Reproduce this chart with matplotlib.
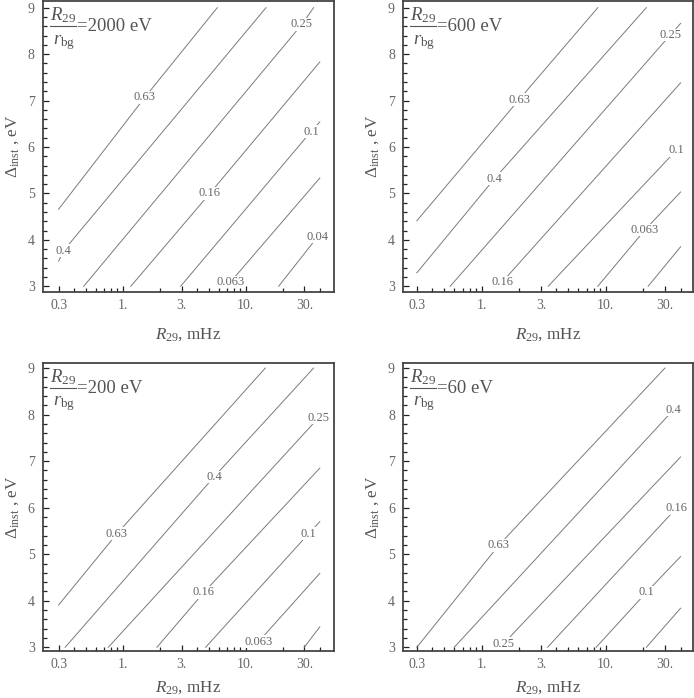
import matplotlib
matplotlib.use("Agg")
import matplotlib.pyplot as plt
import numpy as np
from matplotlib.ticker import FixedLocator, FixedFormatter, NullFormatter

plt.rcParams['font.family'] = 'Liberation Serif'
plt.rcParams['mathtext.fontset'] = 'custom'
plt.rcParams['mathtext.rm'] = 'Liberation Serif'
plt.rcParams['mathtext.it'] = 'Liberation Serif:italic'

# contour levels (labels) and line end points
# each line: start (r0, d0) -> end (r1, d1), label anchor (rl, dl)
p1_levels = ['0.63', '0.4', '0.25', '0.16', '0.1', '0.063', '0.04']
p1_r0 = [0.3, 0.3, 0.48, 1.16, 2.95, 7.15, 18.5]
p1_d0 = [4.66, 3.54, 3.0, 3.0, 3.0, 3.0, 3.0]
p1_r1 = [5.86, 14.6, 35.6, 40, 40, 40, 40]
p1_d1 = [9.0, 9.0, 9.0, 7.83, 6.54, 5.33, 4.12]
p1_rl = [1.51, 0.33, 28.6, 5.1, 33.9, 7.5, 38.5]
p1_dl = [7.07, 3.77, 8.64, 5.0, 6.33, 3.09, 4.07]

p2_levels = ['0.63', '0.4', '0.25', '0.16', '0.1', '0.063', '']
p2_r0 = [0.3, 0.3, 0.557, 1.29, 3.43, 8.61, 21.9]
p2_d0 = [4.41, 3.29, 3.0, 3.0, 3.0, 3.0, 3.0]
p2_r1 = [8.61, 21.2, 40, 40, 40, 40, 40]
p2_d1 = [9.0, 9.0, 8.66, 7.38, 6.04, 5.03, 3.85]
p2_rl = [2.0, 1.27, 33, 1.46, 37, 20.6, None]
p2_dl = [7.02, 5.32, 8.41, 3.09, 5.93, 4.21, None]

p3_levels = ['0.63', '0.4', '0.25', '0.16', '0.1', '0.063', '']
p3_r0 = [0.3, 0.339, 0.76, 1.89, 4.71, 11.6, 29.9]
p3_d0 = [3.91, 3.0, 3.0, 3.0, 3.0, 3.0, 3.0]
p3_r1 = [14.4, 35.6, 40, 40, 40, 40, 40]
p3_d1 = [9.0, 9.0, 7.95, 6.85, 5.70, 4.59, 3.44]
p3_rl = [0.894, 5.5, 39, 4.56, 32.4, 12.7, None]
p3_dl = [5.44, 6.66, 7.93, 4.18, 5.44, 3.12, None]

p4_levels = ['0.63', '0.4', '0.25', '0.16', '0.1', '']
p4_r0 = [0.3, 0.6, 1.42, 3.39, 8.35, 21.2]
p4_d0 = [3.0, 3.0, 3.0, 3.0, 3.0, 3.0]
p4_r1 = [29.9, 40, 40, 40, 40, 40]
p4_d1 = [9.0, 8.2, 7.09, 6.05, 4.95, 3.84]
p4_rl = [1.37, 35, 1.5, 37, 21.2, None]
p4_dl = [5.19, 8.1, 3.08, 5.99, 4.18, None]

ratios = ['2000', '600', '200', '60']

xticks = [0.3, 1, 3, 10, 30]
xticklabels = ['0.3', '1.', '3.', '10.', '30.']

fig = plt.figure(figsize=(6.94, 6.98), dpi=100)
boxes = [[0.062, 0.5817, 0.419, 0.4173],
         [0.581, 0.5817, 0.417, 0.4173],
         [0.062, 0.0669, 0.419, 0.4131],
         [0.581, 0.0669, 0.417, 0.4131]]
xlims = [(0.224, 52), (0.233, 50), (0.224, 52), (0.233, 50)]
ylims = [(2.877, 9.15), (2.877, 9.15), (2.914, 9.11), (2.914, 9.11)]
xlabelpads = [10, 10, 6, 6]

panels = [
    (p1_levels, p1_r0, p1_d0, p1_r1, p1_d1, p1_rl, p1_dl),
    (p2_levels, p2_r0, p2_d0, p2_r1, p2_d1, p2_rl, p2_dl),
    (p3_levels, p3_r0, p3_d0, p3_r1, p3_d1, p3_rl, p3_dl),
    (p4_levels, p4_r0, p4_d0, p4_r1, p4_d1, p4_rl, p4_dl),
]

minor = [m * 10.0 ** e for e in (-1, 0, 1) for m in range(1, 10)]
minor = [v for v in minor if 0.29 < v < 41 and round(v, 6) not in xticks]

txt = '#555555'

for i, (lev, r0, d0, r1, d1, rl, dl) in enumerate(panels):
    ax = fig.add_axes(boxes[i])
    ax.set_xscale('log')
    for k in range(len(lev)):
        if rl[k] is not None:
            xs = [r0[k], rl[k], r1[k]]
            ys = [d0[k], dl[k], d1[k]]
        else:
            xs = [r0[k], r1[k]]
            ys = [d0[k], d1[k]]
        ax.plot(xs, ys, color='#7a7a7a', lw=0.7)
        if lev[k]:
            ax.text(rl[k], dl[k], lev[k], fontsize=9, color='#666666',
                    ha='center', va='center',
                    bbox=dict(fc='white', ec='none', pad=0.3))
    ax.set_xlim(*xlims[i])
    ax.set_ylim(*ylims[i])
    ax.xaxis.set_major_locator(FixedLocator(xticks))
    ax.xaxis.set_major_formatter(FixedFormatter(xticklabels))
    ax.xaxis.set_minor_locator(FixedLocator(minor))
    ax.xaxis.set_minor_formatter(NullFormatter())
    ax.yaxis.set_major_locator(FixedLocator([3, 4, 5, 6, 7, 8, 9]))
    ax.yaxis.set_minor_locator(FixedLocator(np.arange(3.2, 9.0, 0.2)))
    ax.tick_params(which='both', direction='in', top=False, right=False,
                   color='#222222', width=0.9, labelsize=10,
                   labelcolor='#666666')
    ax.tick_params(which='major', length=4)
    ax.tick_params(which='minor', length=2.8)
    ax.tick_params(axis='x', pad=5)
    ax.tick_params(axis='y', pad=6)
    for s in ax.spines.values():
        s.set_color('#444444')
        s.set_linewidth(1.3)
    ax.set_xlabel(r'$R_{29}$, mHz', fontsize=12.3, color=txt,
                  labelpad=xlabelpads[i])
    ax.set_ylabel(r'$\Delta_{\mathrm{inst}}$ , eV', fontsize=12.3,
                  color=txt, labelpad=5)

    # R29 / r_bg = ... eV, written as a stacked fraction
    ax.text(0.024, 0.950, r'$R_{29}$', transform=ax.transAxes,
            ha='left', va='center', fontsize=13.5, color=txt)
    ax.plot([0.024, 0.113], [0.914, 0.914], transform=ax.transAxes,
            color=txt, lw=0.8, clip_on=False)
    ax.text(0.034, 0.858, r'$r_{\mathrm{bg}}$', transform=ax.transAxes,
            ha='left', va='center', fontsize=13.5, color=txt)
    ax.text(0.117, 0.910, '=' + ratios[i] + ' eV', transform=ax.transAxes,
            ha='left', va='center', fontsize=13.5, color=txt)

fig.savefig('out.png', dpi=100)
